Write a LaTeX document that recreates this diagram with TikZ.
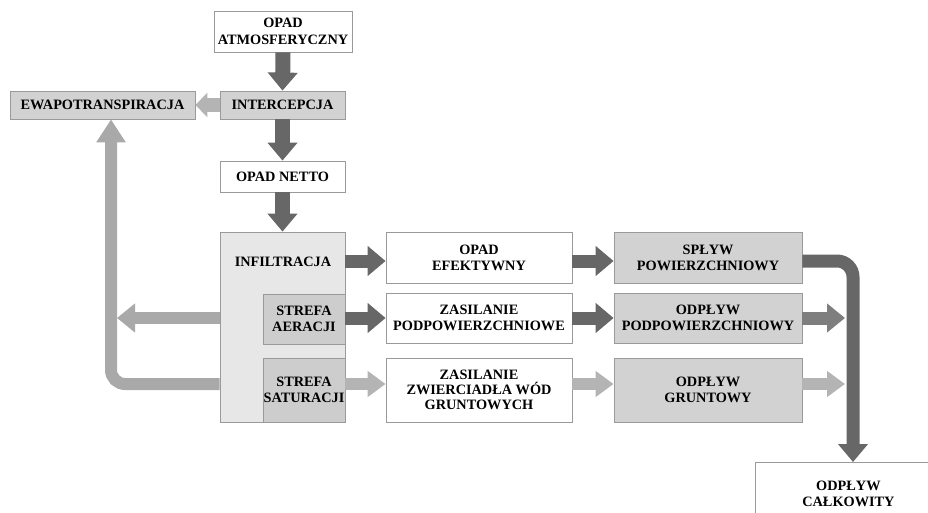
\documentclass[tikz,border=0pt]{standalone}
\usepackage{fontspec}
\setmainfont{Liberation Serif}
\usetikzlibrary{arrows.meta}
\definecolor{bord}{HTML}{9A9A9A}
\definecolor{gbox}{HTML}{D2D2D2}
\definecolor{gzone}{HTML}{E7E7E7}
\definecolor{gstr}{HTML}{CDCDCD}
\definecolor{adark}{HTML}{676767}
\definecolor{amid}{HTML}{7E7E7E}
\definecolor{alight}{HTML}{B4B4B4}
\definecolor{aleft}{HTML}{A9A9A9}
\begin{document}
\begin{tikzpicture}[x=1pt,y=-1pt,
  box/.style={draw=bord, line width=0.8pt, fill=white, align=center, inner sep=0pt,
    font=\bfseries\fontsize{14.3}{16}\selectfont},
  graybox/.style={box, fill=gbox},
  lbl/.style={align=center, inner sep=0pt, font=\bfseries\fontsize{14.3}{16}\selectfont},
  fatarrow/.style n args={4}{draw=#1, line width=#2, -{Triangle[length=#3,width=#4]}},
  dkv/.style={fatarrow={adark}{15pt}{18pt}{29pt}},
  dk/.style={fatarrow={adark}{13pt}{18pt}{29pt}},
  md/.style={fatarrow={amid}{13pt}{18pt}{28pt}},
  lt/.style={fatarrow={alight}{12pt}{18pt}{25pt}},
  evap/.style={fatarrow={alight}{14pt}{12pt}{24pt}},
  lf/.style={fatarrow={aleft}{12pt}{18pt}{28pt}},
  lfup/.style={fatarrow={aleft}{12pt}{23pt}{28pt}}
]
\path[use as bounding box] (0,0) rectangle (928,513);

% top column
\node[box, minimum width=138pt, minimum height=41pt] (atm) at (283,31.5) {OPAD\\[1pt]ATMOSFERYCZNY};
\node[graybox, minimum width=125pt, minimum height=28pt] (int) at (282.5,105) {INTERCEPCJA};
\node[graybox, minimum width=185pt, minimum height=28pt] (ewa) at (102.5,105) {EWAPOTRANSPIRACJA};
\node[box, minimum width=125pt, minimum height=31pt] (netto) at (282.5,176.5) {OPAD NETTO};

% infiltration block
\node[box, fill=gzone, minimum width=125pt, minimum height=190pt] (inf) at (282.5,327) {};
\node[lbl] (inflbl) at (283,262) {INFILTRACJA};
\node[box, fill=gstr, minimum width=82pt, minimum height=50pt] (aer) at (304,319) {STREFA\\AERACJI};
\node[box, fill=gstr, minimum width=82pt, minimum height=64pt] (sat) at (304,390) {STREFA\\SATURACJI};

% middle column
\node[box, minimum width=186pt, minimum height=51pt] (efe) at (479,257.5) {OPAD\\EFEKTYWNY};
\node[box, minimum width=186pt, minimum height=50pt] (zpod) at (479,318) {ZASILANIE\\PODPOWIERZCHNIOWE};
\node[box, minimum width=186pt, minimum height=64pt, font=\bfseries\fontsize{14.3}{15}\selectfont] (zzw) at (479,390) {ZASILANIE\\ZWIERCIADŁA WÓD\\GRUNTOWYCH};

% right column
\node[graybox, minimum width=188pt, minimum height=51pt] (spl) at (708,257.5) {SPŁYW\\POWIERZCHNIOWY};
\node[graybox, minimum width=188pt, minimum height=50pt] (opod) at (708,318) {ODPŁYW\\PODPOWIERZCHNIOWY};
\node[graybox, minimum width=188pt, minimum height=64pt] (ogr) at (708,390) {ODPŁYW\\GRUNTOWY};

\node[box, minimum width=186pt, minimum height=62pt, anchor=north west] (calk) at (755,462) {ODPŁYW\\CAŁKOWITY};

% helper coordinates
\coordinate (r1) at (0,261);
\coordinate (r2) at (0,318);
\coordinate (r3) at (0,384);
\coordinate (jx) at (845,0);
\coordinate (vx) at (853,0);
\coordinate (lmid) at (117,318);
\coordinate (lbend) at (111,384);

% vertical arrows
\draw[dkv] (atm.south) -- (int.north);
\draw[dkv] (int.south) -- (netto.north);
\draw[dkv] (netto.south) -- (inf.north);
\draw[evap] (int.west) -- (ewa.east);

% row arrows
\draw[dk] (inf.east |- r1) -- (efe.west |- r1);
\draw[dk] (aer.east |- r2) -- (zpod.west |- r2);
\draw[lt] (sat.east |- r3) -- (zzw.west |- r3);
\draw[dk] (efe.east |- r1) -- (spl.west |- r1);
\draw[dk] (zpod.east |- r2) -- (opod.west |- r2);
\draw[lt] (zzw.east |- r3) -- (ogr.west |- r3);

% right side
\draw[md] (opod.east |- r2) -- (jx |- r2);
\draw[lt] (ogr.east |- r3) -- (jx |- r3);
\draw[dk, rounded corners=16pt] (spl.east |- r1) -- (vx |- r1) -- (vx |- calk.north);

% left side
\draw[lf] (inf.west |- r2) -- (lmid);
\draw[lfup, rounded corners=14pt] (inf.west |- r3) -- (lbend) -- (lbend |- ewa.south);
\end{tikzpicture}
\end{document}
